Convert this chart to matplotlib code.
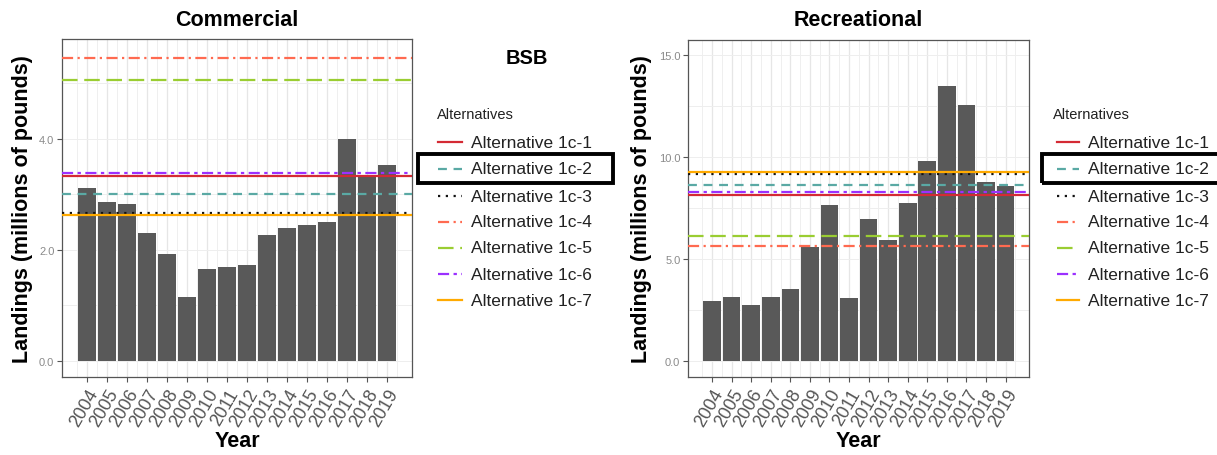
import matplotlib
matplotlib.use("Agg")
import matplotlib.pyplot as plt
from matplotlib.lines import Line2D
from matplotlib.patches import Rectangle
import numpy as np

plt.rcParams['font.family'] = ['Liberation Sans', 'DejaVu Sans']

years = [str(y) for y in range(2004, 2020)]
commercial = [3.11, 2.87, 2.83, 2.30, 1.93, 1.16, 1.66, 1.70, 1.72, 2.27, 2.40, 2.45, 2.50, 4.00, 3.34, 3.53]
recreational = [2.97, 3.17, 2.77, 3.17, 3.54, 5.58, 7.67, 3.08, 6.97, 5.92, 7.77, 9.79, 13.50, 12.55, 8.78, 8.58]

alternatives = ["Alternative 1c-1", "Alternative 1c-2", "Alternative 1c-3", "Alternative 1c-4",
                "Alternative 1c-5", "Alternative 1c-6", "Alternative 1c-7"]
comm_alt = [3.33, 3.00, 2.67, 5.45, 5.06, 3.39, 2.63]
rec_alt = [8.16, 8.65, 9.16, 5.63, 6.12, 8.27, 9.25]

alt_colors = ['#d42a34', '#5aa9a4', '#111111', '#ff6a50', '#9acd32', '#9b30ff', '#ffaa00']
alt_dashes = [None, (4, 3), (1, 2.5), (5, 2, 1, 2), (7, 3), (5, 2, 1.5, 2), None]

W, H = 1217, 456
fig = plt.figure(figsize=(W / 100, H / 100), dpi=100)
fig.patch.set_facecolor('white')


def fx(x):
    return x / W


def fy(y):
    return 1 - y / H


def make_panel(rect_px, values, alts, ylim, yticks, ytl, xlim, title):
    x0, y0, x1, y1 = rect_px
    ax = fig.add_axes([fx(x0), fy(y1), (x1 - x0) / W, (y1 - y0) / H])
    pos = np.arange(len(years))
    ax.set_xlim(*xlim)
    ax.set_ylim(*ylim)
    # grid
    for p in pos:
        ax.axvline(p, color='#e6e6e6', lw=0.9, zorder=0)
    for p in np.arange(-0.5, len(years), 1.0):
        ax.axvline(p, color='#ededed', lw=0.6, zorder=0)
    step = yticks[1] - yticks[0]
    for v in np.arange(0, ylim[1], step / 2):
        ax.axhline(v, color='#eeeeee', lw=0.7, zorder=0)
    ax.bar(pos, values, width=0.9, color='#595959', zorder=2)
    for v, c, d in zip(alts, alt_colors, alt_dashes):
        ln = ax.axhline(v, color=c, lw=1.6, zorder=3)
        if d is not None:
            ln.set_dashes(d)
    ax.set_xticks(pos)
    ax.set_xticklabels(years, rotation=60, ha='right', va='top',
                       rotation_mode='anchor', fontsize=13, color='#555555')
    ax.set_yticks(yticks)
    ax.set_yticklabels(ytl, fontsize=8, color='#8a8a8a')
    ax.tick_params(axis='both', length=3.5, width=0.8, color='#555555', pad=2)
    ax.tick_params(axis='x', pad=3)
    for s in ax.spines.values():
        s.set_color('#555555')
        s.set_linewidth(0.9)
    ax.set_facecolor('white')
    fig.text(fx((x0 + x1) / 2), fy(20), title, fontsize=15.5, fontweight='bold',
             ha='center', va='center')
    fig.text(fx((x0 + x1) / 2), fy(442), 'Year', fontsize=15.5, fontweight='bold',
             ha='center', va='center')
    return ax


axL = make_panel((62, 40, 412, 378), commercial, comm_alt, (-0.29, 5.80),
                 [0, 2, 4], ['0.0', '2.0', '4.0'], (-1.25, 16.25), 'Commercial')
axR = make_panel((688, 41, 1029, 378), recreational, rec_alt, (-0.77, 15.74),
                 [0, 5, 10, 15], ['0.0', '5.0', '10.0', '15.0'], (-1.23, 16.2), 'Recreational')

fig.text(fx(23), fy(209), 'Landings (millions of pounds)', rotation=90, fontsize=15.5,
         fontweight='bold', ha='center', va='center')
fig.text(fx(642), fy(209), 'Landings (millions of pounds)', rotation=90, fontsize=15.5,
         fontweight='bold', ha='center', va='center')

fig.text(fx(527), fy(58), 'BSB', fontsize=14.5, fontweight='bold', ha='center', va='center')

# legends
entry_y = [143, 170, 197, 223, 249, 275, 301]
for (tx, kx0, kx1, lx) in [(437, 438, 462, 471), (1053, 1057, 1079, 1088)]:
    fig.text(fx(tx), fy(115), 'Alternatives', fontsize=10.5, color='#222222',
             ha='left', va='center')
    for yy, lab, c, d in zip(entry_y, alternatives, alt_colors, alt_dashes):
        ln = Line2D([fx(kx0), fx(kx1)], [fy(yy), fy(yy)], transform=fig.transFigure,
                    color=c, lw=1.6)
        if d is not None:
            ln.set_dashes(d)
        fig.add_artist(ln)
        fig.text(fx(lx), fy(yy), lab, fontsize=12.5, color='#222222',
                 ha='left', va='center')

# highlight boxes
for (bx0, bx1) in [(418, 613), (1042, 1235)]:
    r = Rectangle((fx(bx0), fy(184)), (bx1 - bx0) / W, 29 / H, transform=fig.transFigure,
                  fill=False, edgecolor='black', lw=2.8, clip_on=False)
    fig.add_artist(r)

fig.savefig('out.png', dpi=100)
